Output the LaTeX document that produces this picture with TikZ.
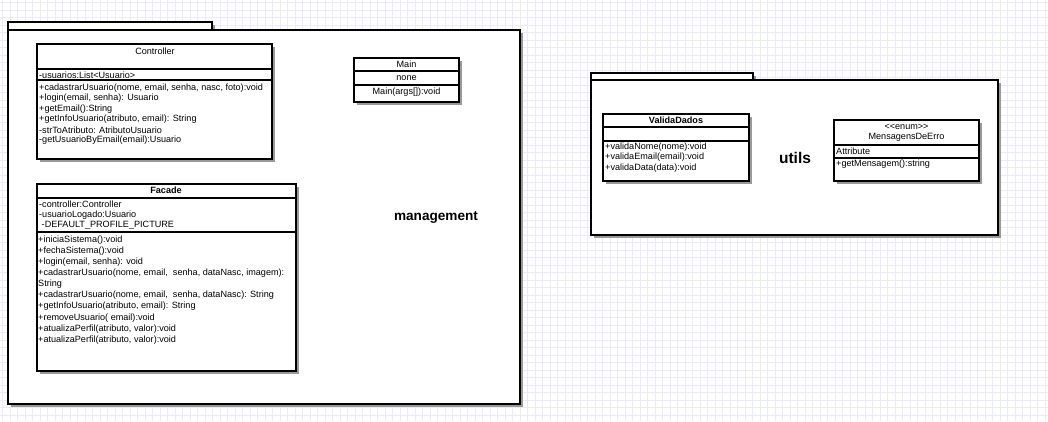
\documentclass[tikz,border=0pt]{standalone}
\usepackage{fontspec}
\setmainfont{Liberation Sans}
\usetikzlibrary{shadows}
\definecolor{gridlav}{RGB}{234,234,252}

\begin{document}
\begin{tikzpicture}[x=1pt,y=-1pt,
	box/.style={draw=black,line width=1.3pt,fill=white,drop shadow={shadow xshift=3pt,shadow yshift=-3pt,fill=black!40,opacity=1}},
	sep/.style={line width=1.1pt},
	gridline/.style={draw=gridlav,line width=0.8pt},
	txt/.style={inner sep=0pt,anchor=west,font=\fontsize{9.1}{10}\selectfont},
	ctxt/.style={txt,anchor=center},
	pkglabel/.style={inner sep=0pt,font=\fontsize{13.6}{15}\selectfont\bfseries}]
	\useasboundingbox (0,0) rectangle (1048,421);
	\fill[white] (0,0) rectangle (1048,421);
	% background grid
	\foreach \i in {0,...,139}
		\draw[gridline] (2.5+7.5*\i,0) -- ++(0,421);
	\foreach \j in {0,...,55}
		\draw[gridline] (0,2.5+7.5*\j) -- ++(1048,0);

	% package management
	\draw[box] (8,22) rectangle (212,30);
	\draw[box] (8,30) rectangle (520,404);
	\node[pkglabel] (management) at (436,217) {management};

	% Controller
	\draw[box] (37,44) rectangle (272,159);
	\draw[sep] (37,69) -- (272,69) (37,80) -- (272,80);
	\node[ctxt] (ctrl-name) at (155,51) {Controller};
	\node[txt] (ctrl-attr) at (39,75) {-usuarios:List<Usuario>};
	\foreach \i/\val in {0/{+cadastrarUsuario(nome, email, senha, nasc, foto):void},
		1/{+login(email, senha): Usuario},2/{+getEmail():String},
		3/{+getInfoUsuario(atributo, email): String},4/{-strToAtributo: AtributoUsuario},
		5/{-getUsuarioByEmail(email):Usuario}}
		\node[txt] (ctrl-op\i) at (39,88+10.5*\i) {\val};

	% Main
	\draw[box] (354,58) rectangle (459,102);
	\draw[sep] (354,71) -- (459,71) (354,85) -- (459,85);
	\node[ctxt] (main-name) at (406.5,64.5) {Main};
	\node[ctxt] (main-attr) at (406.5,78) {none};
	\node[ctxt] (main-op) at (406.5,92.5) {Main(args[]):void};

	% Facade
	\draw[box] (37,184) rectangle (296,371);
	\draw[sep] (37,198) -- (296,198) (37,232) -- (296,232);
	\node[ctxt,font=\fontsize{9.1}{10}\selectfont\bfseries] (fac-name) at (166,190.5) {Facade};
	\foreach \i/\val in {0/{-controller:Controller},1/{-usuarioLogado:Usuario},2/{\ -DEFAULT\_PROFILE\_PICTURE}}
		\node[txt] (fac-attr\i) at (39,204+10.8*\i) {\val};
	\foreach \i/\val in {0/{+iniciaSistema():void},1/{+fechaSistema():void},2/{+login(email, senha): void},
		3/{+cadastrarUsuario(nome, email,\ \ senha, dataNasc, imagem):},4/{String},
		5/{+cadastrarUsuario(nome, email,\ \ senha, dataNasc): String},
		6/{+getInfoUsuario(atributo, email): String},7/{+removeUsuario( email):void},
		8/{+atualizaPerfil(atributo, valor):void},9/{+atualizaPerfil(atributo, valor):void}}
		\node[txt] (fac-op\i) at (38,240+11.1*\i) {\val};

	% package utils
	\draw[box] (591,73) rectangle (753,80);
	\draw[box] (591,80) rectangle (998,235);
	\node[pkglabel,font=\fontsize{15.5}{17}\selectfont\bfseries] (utils) at (795,158) {utils};

	% ValidaDados
	\draw[box] (603,114) rectangle (749,181);
	\draw[sep] (603,127) -- (749,127) (603,141) -- (749,141);
	\node[ctxt,font=\fontsize{9.1}{10}\selectfont\bfseries] (val-name) at (676,120.5) {ValidaDados};
	\foreach \i/\val in {0/{+validaNome(nome):void},1/{+validaEmail(email):void},2/{+validaData(data):void}}
		\node[txt] (val-op\i) at (605,147+10.5*\i) {\val};

	% MensagensDeErro
	\draw[box] (834,120) rectangle (979,181);
	\draw[sep] (834,145) -- (979,145) (834,158) -- (979,158);
	\node[ctxt] (msg-stereo) at (906.5,126.5) {<{}<enum>{}>};
	\node[ctxt] (msg-name) at (906.5,137.5) {MensagensDeErro};
	\node[txt] (msg-attr) at (836,151) {Attribute};
	\node[txt] (msg-op) at (836,164) {+getMensagem():string};
\end{tikzpicture}
\end{document}
